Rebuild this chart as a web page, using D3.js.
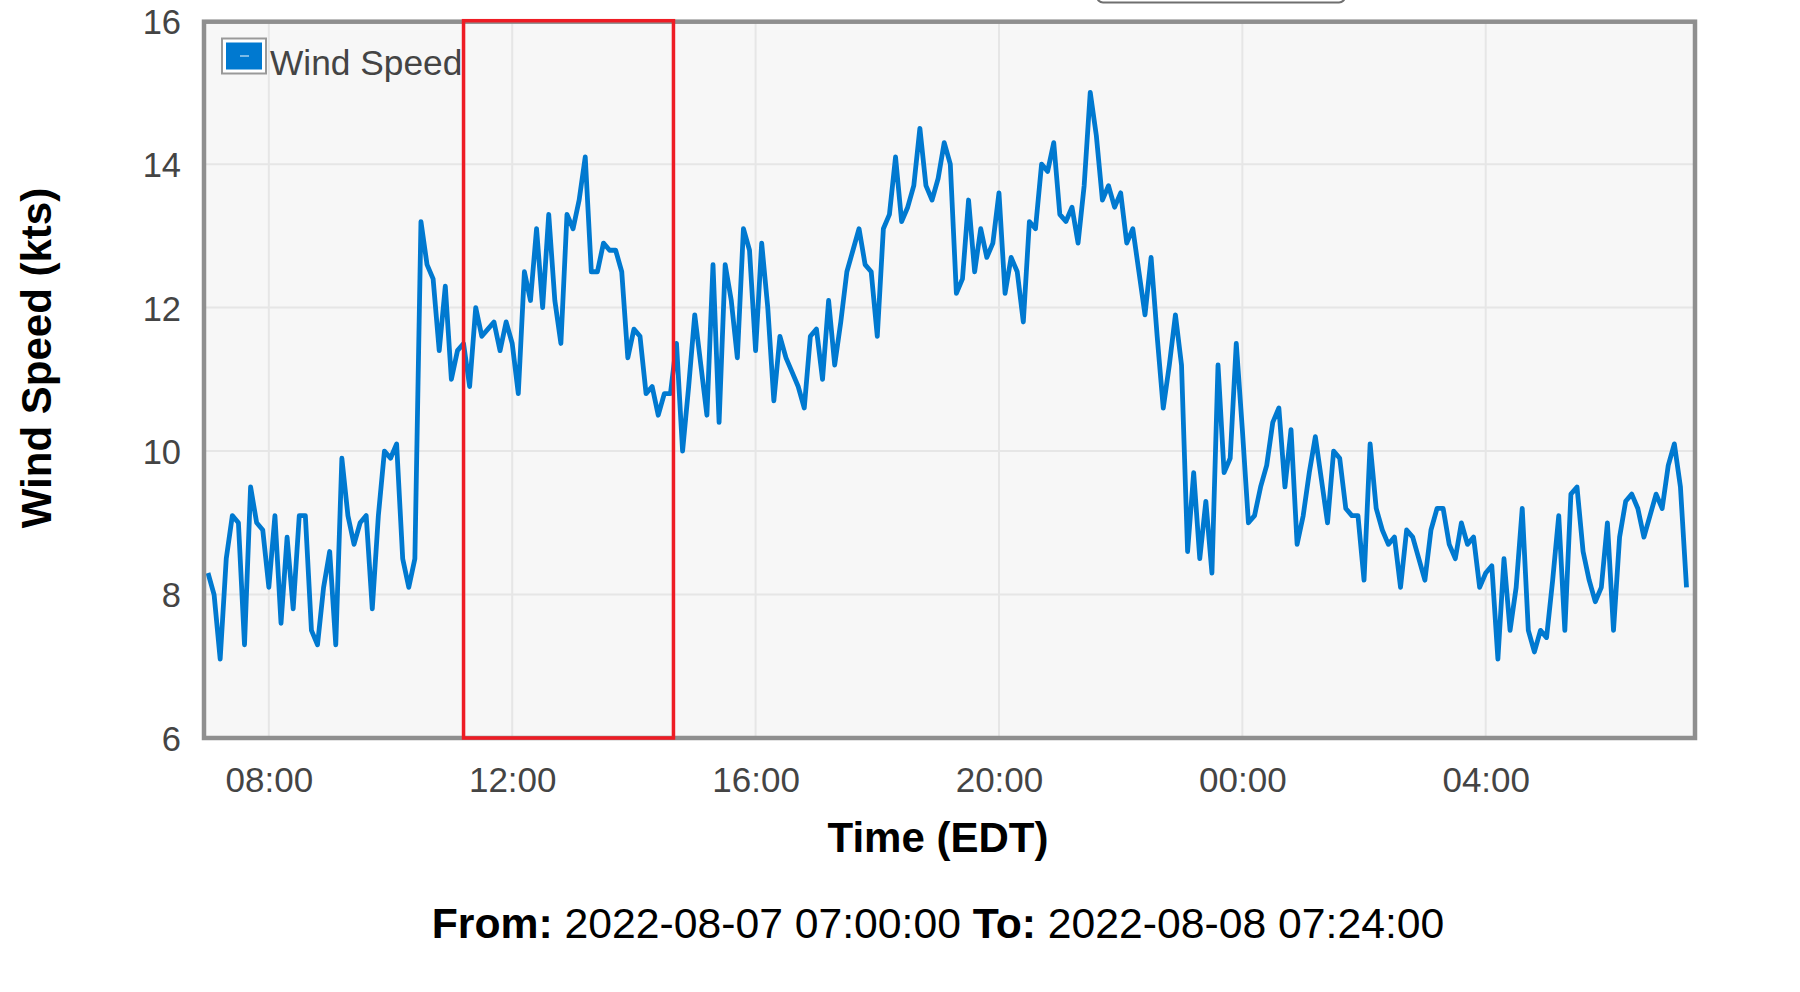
<!DOCTYPE html>
<html>
<head>
<meta charset="utf-8">
<script src="https://cdn.jsdelivr.net/npm/d3@7.9.0/dist/d3.min.js"></script>
<style>
  body { margin: 0; background: #fff; }
  svg { display: block; font-family: "Liberation Sans", Arial, sans-serif; }
</style>
</head>
<body>
<div id="chart"></div>
<script>
// wind speed readings, one every 6 minutes from the start time
const startTime = new Date(2022, 7, 7, 7, 0);
const endTime = new Date(2022, 7, 8, 7, 24);
const stepMinutes = 6;
const windSpeed = [
  8.3, 8.0, 7.1, 8.5, 9.1, 9.0, 7.3, 9.5, 9.0, 8.9, 8.1, 9.1, 7.6, 8.8, 7.8, 9.1, 9.1, 7.5, 7.3, 8.1,
  8.6, 7.3, 9.9, 9.1, 8.7, 9.0, 9.1, 7.8, 9.1, 10.0, 9.9, 10.1, 8.5, 8.1, 8.5, 13.2, 12.6, 12.4, 11.4, 12.3,
  11.0, 11.4, 11.5, 10.9, 12.0, 11.6, 11.7, 11.8, 11.4, 11.8, 11.5, 10.8, 12.5, 12.1, 13.1, 12.0, 13.3, 12.1, 11.5, 13.3,
  13.1, 13.5, 14.1, 12.5, 12.5, 12.9, 12.8, 12.8, 12.5, 11.3, 11.7, 11.6, 10.8, 10.9, 10.5, 10.8, 10.8, 11.5, 10.0, 10.9,
  11.9, 11.2, 10.5, 12.6, 10.4, 12.6, 12.1, 11.3, 13.1, 12.8, 11.4, 12.9, 12.0, 10.7, 11.6, 11.3, 11.1, 10.9, 10.6, 11.6,
  11.7, 11.0, 12.1, 11.2, 11.8, 12.5, 12.8, 13.1, 12.6, 12.5, 11.6, 13.1, 13.3, 14.1, 13.2, 13.4, 13.7, 14.5, 13.7, 13.5,
  13.8, 14.3, 14.0, 12.2, 12.4, 13.5, 12.5, 13.1, 12.7, 12.9, 13.6, 12.2, 12.7, 12.5, 11.8, 13.2, 13.1, 14.0, 13.9, 14.3,
  13.3, 13.2, 13.4, 12.9, 13.7, 15.0, 14.4, 13.5, 13.7, 13.4, 13.6, 12.9, 13.1, 12.5, 11.9, 12.7, 11.6, 10.6, 11.2, 11.9,
  11.2, 8.6, 9.7, 8.5, 9.3, 8.3, 11.2, 9.7, 9.9, 11.5, 10.3, 9.0, 9.1, 9.5, 9.8, 10.4, 10.6, 9.5, 10.3, 8.7,
  9.1, 9.7, 10.2, 9.6, 9.0, 10.0, 9.9, 9.2, 9.1, 9.1, 8.2, 10.1, 9.2, 8.9, 8.7, 8.8, 8.1, 8.9, 8.8, 8.5,
  8.2, 8.9, 9.2, 9.2, 8.7, 8.5, 9.0, 8.7, 8.8, 8.1, 8.3, 8.4, 7.1, 8.5, 7.5, 8.1, 9.2, 7.5, 7.2, 7.5,
  7.4, 8.2, 9.1, 7.5, 9.4, 9.5, 8.6, 8.2, 7.9, 8.1, 9.0, 7.5, 8.8, 9.3, 9.4, 9.2, 8.8, 9.1, 9.4, 9.2,
  9.8, 10.1, 9.5, 8.1
];
const yTicks = [6, 8, 10, 12, 14, 16];
// highlighted window (red box)
const highlightStart = new Date(2022, 7, 7, 11, 12);
const highlightEnd = new Date(2022, 7, 7, 14, 39);

const data = windSpeed.map((v, i) => ({
  time: new Date(startTime.getTime() + i * stepMinutes * 60000),
  speed: v,
}));

const width = 1800;
const height = 992;
const plot = { left: 208, right: 1692.6, top: 20.7, bottom: 738 };

const svg = d3
  .select("#chart")
  .append("svg")
  .attr("width", width)
  .attr("height", height);

const xScale = d3.scaleTime().domain([startTime, endTime]).range([plot.left, plot.right]);
const yScale = d3.scaleLinear().domain([6, 16]).range([plot.bottom, plot.top]);

// cut-off control at the very top
svg.append("rect")
  .attr("x", 1097).attr("y", -30).attr("width", 248).attr("height", 32.5)
  .attr("rx", 6)
  .attr("fill", "#fff").attr("stroke", "#6f6f6f").attr("stroke-width", 2);

// plot background
svg.append("rect")
  .attr("x", plot.left - 3).attr("y", plot.top)
  .attr("width", 1695 - plot.left + 3).attr("height", plot.bottom - plot.top)
  .attr("fill", "#f7f7f7");

const xTicks = xScale.ticks(d3.timeHour.every(4));

// gridlines
svg.append("g")
  .selectAll("line")
  .data(yTicks)
  .join("line")
  .attr("x1", plot.left - 3).attr("x2", 1695)
  .attr("y1", (d) => yScale(d)).attr("y2", (d) => yScale(d))
  .attr("stroke", "#e6e6e6").attr("stroke-width", 2);

svg.append("g")
  .selectAll("line")
  .data(xTicks)
  .join("line")
  .attr("x1", (d) => xScale(d)).attr("x2", (d) => xScale(d))
  .attr("y1", plot.top).attr("y2", plot.bottom)
  .attr("stroke", "#e6e6e6").attr("stroke-width", 2);

// wind speed line
const line = d3.line()
  .x((d) => xScale(d.time))
  .y((d) => yScale(d.speed));

svg.append("path")
  .datum(data)
  .attr("d", line)
  .attr("fill", "none")
  .attr("stroke", "#0079d0")
  .attr("stroke-width", 4.8)
  .attr("stroke-linejoin", "round");

// plot frame
svg.append("rect")
  .attr("x", plot.left - 4).attr("y", plot.top + 1)
  .attr("width", 1695 - plot.left + 4).attr("height", plot.bottom - plot.top - 1)
  .attr("fill", "none")
  .attr("stroke", "#8f8f8f")
  .attr("stroke-width", 4.5);

// highlight box
svg.append("rect")
  .attr("x", xScale(highlightStart)).attr("y", plot.top)
  .attr("width", xScale(highlightEnd) - xScale(highlightStart))
  .attr("height", plot.bottom - plot.top)
  .attr("fill", "none")
  .attr("stroke", "#ee1c24")
  .attr("stroke-width", 3.5);

// y axis labels
const yAxis = d3.axisLeft(yScale).tickValues(yTicks).tickSize(0).tickPadding(0);
const yG = svg.append("g")
  .attr("transform", `translate(181,0)`)
  .call(yAxis);
yG.select(".domain").remove();
yG.selectAll("text")
  .attr("font-size", 34.5)
  .attr("font-family", "Liberation Sans, Arial, sans-serif")
  .attr("fill", "#444")
  .attr("dy", "0.36em");

// x axis labels
const xAxis = d3.axisBottom(xScale)
  .tickValues(xTicks)
  .tickFormat(d3.timeFormat("%H:%M"))
  .tickSize(0)
  .tickPadding(0);
const xG = svg.append("g")
  .attr("transform", `translate(0,767)`)
  .call(xAxis);
xG.select(".domain").remove();
xG.selectAll("text")
  .attr("font-size", 35)
  .attr("font-family", "Liberation Sans, Arial, sans-serif")
  .attr("fill", "#444")
  .attr("dy", "0.72em");

// axis titles
svg.append("text")
  .attr("x", 938).attr("y", 852)
  .attr("text-anchor", "middle")
  .attr("font-size", 42).attr("font-weight", "bold")
  .attr("fill", "#000")
  .text("Time (EDT)");

svg.append("text")
  .attr("transform", "translate(51,358) rotate(-90)")
  .attr("text-anchor", "middle")
  .attr("font-size", 42).attr("font-weight", "bold")
  .attr("fill", "#000")
  .text("Wind Speed (kts)");

// from / to caption
const caption = svg.append("text")
  .attr("x", 938).attr("y", 938)
  .attr("text-anchor", "middle")
  .attr("font-size", 42.7)
  .attr("fill", "#000");
const fmt = d3.timeFormat("%Y-%m-%d %H:%M:%S");
caption.append("tspan").attr("font-weight", "bold").text("From: ");
caption.append("tspan").text(fmt(startTime) + " ");
caption.append("tspan").attr("font-weight", "bold").text("To: ");
caption.append("tspan").text(fmt(endTime));

// legend
const legend = svg.append("g");
legend.append("rect")
  .attr("x", 222).attr("y", 38.5).attr("width", 44).attr("height", 35)
  .attr("fill", "#fff").attr("stroke", "#999").attr("stroke-width", 2);
legend.append("rect")
  .attr("x", 226).attr("y", 42.5).attr("width", 36).attr("height", 27)
  .attr("fill", "#0079d0");
legend.append("line")
  .attr("x1", 240).attr("x2", 249).attr("y1", 56).attr("y2", 56)
  .attr("stroke", "#cfe6f7").attr("stroke-width", 1.2);
legend.append("text")
  .attr("x", 270).attr("y", 74.5)
  .attr("font-size", 35.3)
  .attr("fill", "#444")
  .text("Wind Speed");
</script>
</body>
</html>
